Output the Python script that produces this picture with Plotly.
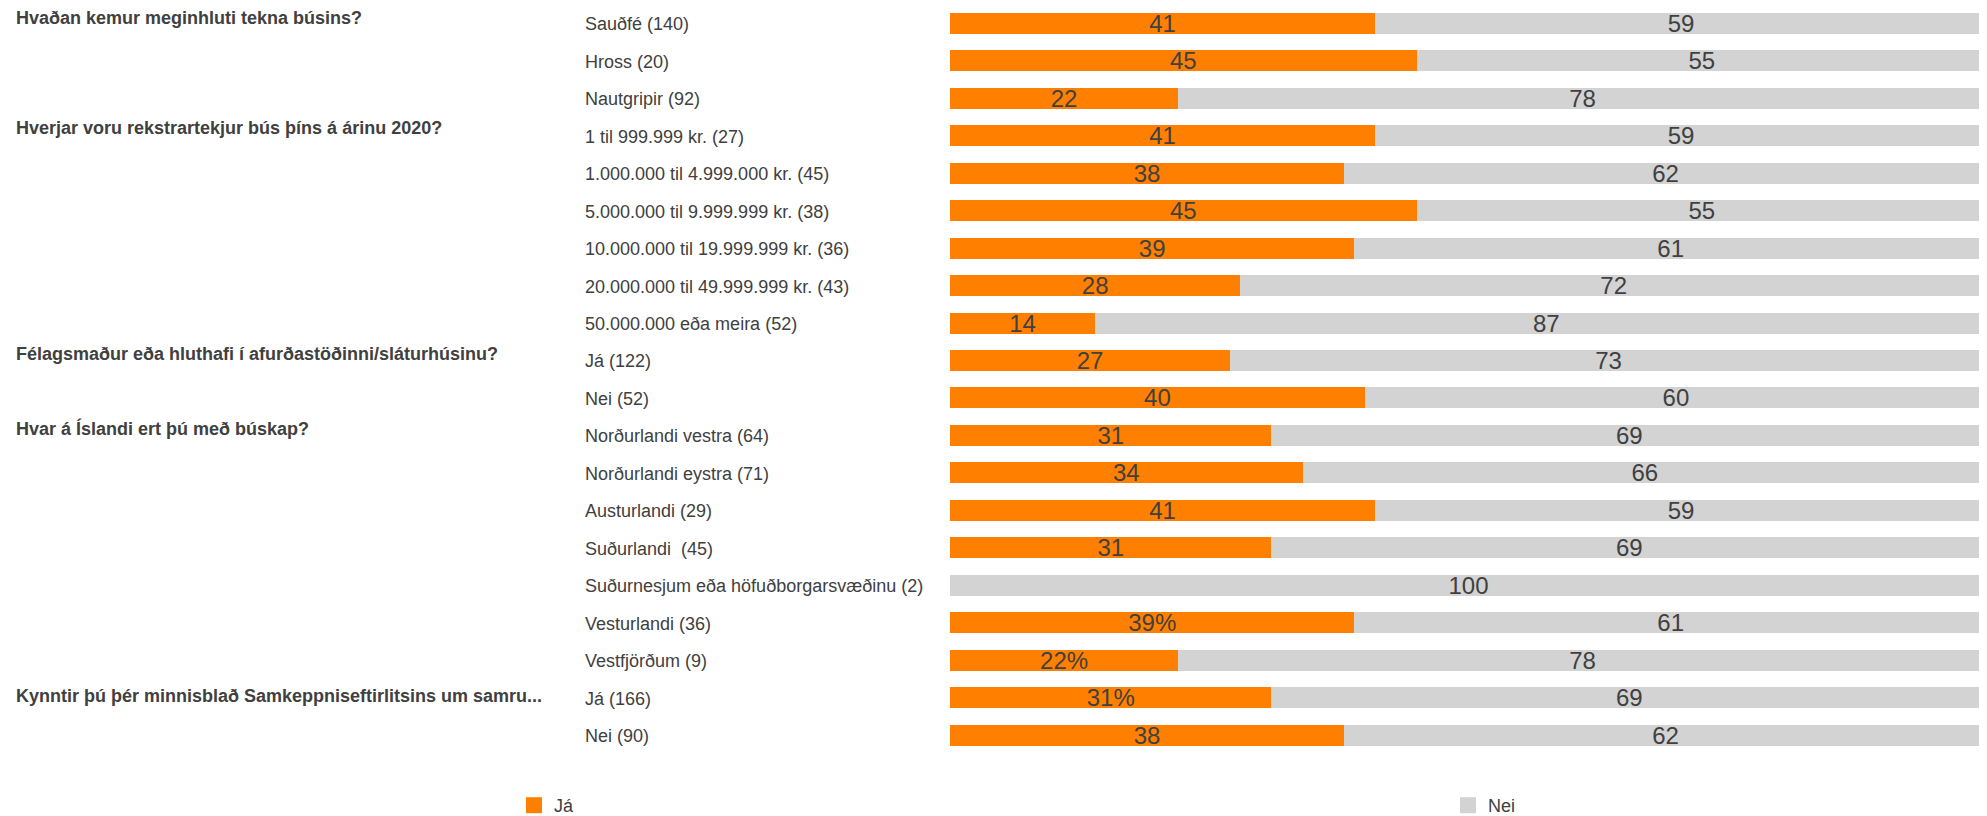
import plotly.graph_objects as go

categories = [
    "Sauðfé (140)", "Hross (20)", "Nautgripir (92)",
    "1 til 999.999 kr. (27)", "1.000.000 til 4.999.000 kr. (45)",
    "5.000.000 til 9.999.999 kr. (38)", "10.000.000 til 19.999.999 kr. (36)",
    "20.000.000 til 49.999.999 kr. (43)", "50.000.000 eða meira (52)",
    "Já (122)", "Nei (52)",
    "Norðurlandi vestra (64)", "Norðurlandi eystra (71)", "Austurlandi (29)",
    "Suðurlandi  (45)", "Suðurnesjum eða höfuðborgarsvæðinu (2)",
    "Vesturlandi (36)", "Vestfjörðum (9)",
    "Já (166)", "Nei (90)",
]
ja_values = [41, 45, 22, 41, 38, 45, 39, 28, 14, 27, 40, 31, 34, 41, 31, 0, 39, 22, 31, 38]
nei_values = [59, 55, 78, 59, 62, 55, 61, 72, 87, 73, 60, 69, 66, 59, 69, 100, 61, 78, 69, 62]
ja_labels = ["41", "45", "22", "41", "38", "45", "39", "28", "14", "27", "40",
             "31", "34", "41", "31", "", "39%", "22%", "31%", "38"]
nei_labels = ["59", "55", "78", "59", "62", "55", "61", "72", "87", "73", "60",
              "69", "66", "59", "69", "100", "61", "78", "69", "62"]

headers = [
    "Hvaðan kemur meginhluti tekna búsins?",
    "Hverjar voru rekstrartekjur bús þíns á árinu 2020?",
    "Félagsmaður eða hluthafi í afurðastöðinni/sláturhúsinu?",
    "Hvar á Íslandi ert þú með búskap?",
    "Kynntir þú þér minnisblað Samkeppniseftirlitsins um samru...",
]
header_rows = [0, 3, 9, 11, 18]
header_shift = [5, 8, 6, 7, 2]

series_names = ["Já", "Nei"]
colors = ["#FF8000", "#D3D3D3"]
legend_left_px = [506, 1440]
text_color = "#404040"
FONT = "Liberation Sans, Arial, sans-serif"

W, H = 1987, 816
ML, MR, MT = 942, 8, 0
ROW_PX = 37.5           # pixel height of one category band
FIRST_CENTER = 15.2     # pixel y of first row centre (figure coords)
n = len(categories)
y_top = -FIRST_CENTER / ROW_PX
y_bottom = n - 0.5
plot_h = (y_bottom - y_top) * ROW_PX
MB = H - MT - plot_h
plot_w = W - ML - MR

fig = go.Figure()
for name, vals, labs, col in [
    (series_names[0], ja_values, ja_labels, colors[0]),
    (series_names[1], nei_values, nei_labels, colors[1]),
]:
    fig.add_trace(go.Bar(
        y=categories, x=vals, orientation="h", name=name,
        marker=dict(color=col, line=dict(width=0)),
        text=labs, textposition="inside", insidetextanchor="middle",
        textangle=0, constraintext="none",
        textfont=dict(family=FONT, size=24, color=text_color),
        showlegend=False, hoverinfo="x+y+name",
    ))

# legend entries (square markers), one legend per series
legend_ids = ["legend", "legend2"]
for name, col, lid in zip(series_names, colors, legend_ids):
    fig.add_trace(go.Scatter(
        x=[None], y=[None], mode="markers", name=name,
        marker=dict(symbol="square", size=16, color=col),
        showlegend=True, legend=lid,
    ))

annotations = []
for cat in categories:
    annotations.append(dict(
        x=(575 - ML) / plot_w, xref="paper", y=cat, yref="y",
        text=cat, showarrow=False, xanchor="left", yanchor="middle",
        font=dict(family=FONT, size=18, color=text_color), yshift=-1,
    ))
for h, r, s in zip(headers, header_rows, header_shift):
    annotations.append(dict(
        x=(6 - ML) / plot_w, xref="paper", y=categories[r], yref="y",
        text="<b>" + h + "</b>", showarrow=False, xanchor="left", yanchor="middle",
        font=dict(family=FONT, size=18, color=text_color), yshift=s,
    ))

legend_common = dict(
    orientation="h", xanchor="left", yanchor="bottom",
    xref="container", yref="container", y=0,
    font=dict(family=FONT, size=18, color=text_color),
    bgcolor="rgba(0,0,0,0)", borderwidth=0,
)

fig.update_layout(
    width=W, height=H,
    barmode="stack", bargap=0.44,
    margin=dict(l=ML, r=MR, t=MT, b=MB, pad=0, autoexpand=False),
    paper_bgcolor="white", plot_bgcolor="white",
    uniformtext=dict(minsize=24, mode="show"),
    xaxis=dict(range=[0, 100], visible=False, fixedrange=True),
    yaxis=dict(categoryorder="array", categoryarray=categories,
               range=[y_bottom, y_top], visible=False, fixedrange=True),
    showlegend=True,
    legend=dict(x=legend_left_px[0] / W, **legend_common),
    legend2=dict(x=legend_left_px[1] / W, **legend_common),
    annotations=annotations,
    font=dict(family=FONT, color=text_color),
)

fig.write_html("out.html")
